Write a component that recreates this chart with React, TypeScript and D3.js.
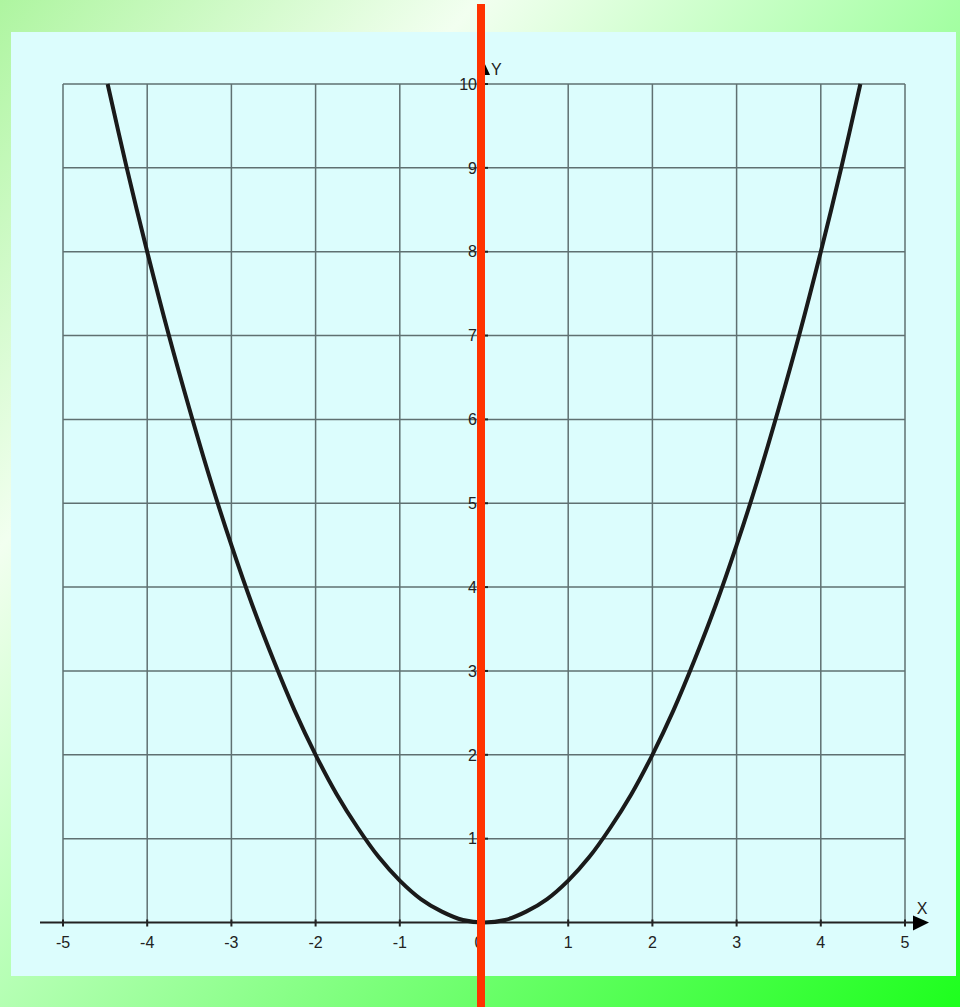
import React from 'react';
import * as d3 from 'd3';

// tick labels on both axes
const xTicks = [-5, -4, -3, -2, -1, 0, 1, 2, 3, 4, 5];
const yTicks = [1, 2, 3, 4, 5, 6, 7, 8, 9, 10];

// points of the curve
const curveX = [
  -4.47, -4.25, -4, -3.75, -3.5, -3.25, -3, -2.75, -2.5, -2.25, -2, -1.75, -1.5, -1.25, -1, -0.75, -0.5, -0.25, 0,
  0.25, 0.5, 0.75, 1, 1.25, 1.5, 1.75, 2, 2.25, 2.5, 2.75, 3, 3.25, 3.5, 3.75, 4, 4.25, 4.47,
];
const curveY = [
  10, 9.03, 8, 7.03, 6.13, 5.28, 4.5, 3.78, 3.13, 2.53, 2, 1.53, 1.13, 0.78, 0.5, 0.28, 0.13, 0.03, 0,
  0.03, 0.13, 0.28, 0.5, 0.78, 1.13, 1.53, 2, 2.53, 3.13, 3.78, 4.5, 5.28, 6.13, 7.03, 8, 9.03, 10,
];

const W = 960;
const H = 1007;
const font = '"Liberation Sans", Arial, sans-serif';

const App = () => {
  // scales for the plot area
  const xScale = d3.scaleLinear().domain([-5, 5]).range([63, 905]);
  const yScale = d3.scaleLinear().domain([0, 10]).range([922.5, 84]);

  const x0 = xScale(0);
  const y0 = yScale(0);

  const points: [number, number][] = curveX.map((x, i) => [x, curveY[i]]);
  const line = d3.line<[number, number]>()
    .x(d => xScale(d[0]))
    .y(d => yScale(d[1]))
    .curve(d3.curveCatmullRom);

  return (
    <svg width={W} height={H} style={{ position: 'absolute', left: 0, top: 0, display: 'block' }}>
      <defs>
        <linearGradient id="bg" gradientUnits="userSpaceOnUse" x1={0} y1={0} x2={1043} y2={910}>
          <stop offset="0" stopColor="#aef5a0" />
          <stop offset="0.26" stopColor="#f2fff0" />
          <stop offset="1" stopColor="#1eff1e" />
        </linearGradient>
      </defs>

      {/* slide background and the light panel */}
      <rect x={0} y={0} width={W} height={H} fill="url(#bg)" />
      <rect x={11} y={32} width={945} height={944} fill="#dcfdfd" />

      {/* grid */}
      <g stroke="#5f7071" strokeWidth={1.5}>
        {xTicks.filter(t => t !== 0).map(t => (
          <line key={'gx' + t} x1={xScale(t)} x2={xScale(t)} y1={yScale(10)} y2={y0} />
        ))}
        {yTicks.map(t => (
          <line key={'gy' + t} x1={xScale(-5)} x2={xScale(5)} y1={yScale(t)} y2={yScale(t)} />
        ))}
      </g>

      {/* axes */}
      <g stroke="#222" strokeWidth={2}>
        <line x1={40} x2={915} y1={y0} y2={y0} />
        <line x1={x0} x2={x0} y1={y0} y2={70} />
        {xTicks.map(t => (
          <line key={'tx' + t} x1={xScale(t)} x2={xScale(t)} y1={y0 - 3} y2={y0 + 4} />
        ))}
        {yTicks.map(t => (
          <line key={'ty' + t} x1={x0 - 3} x2={x0 + 4} y1={yScale(t)} y2={yScale(t)} />
        ))}
      </g>
      <path d={`M929,${y0} L913,${y0 - 7} L913,${y0 + 8} Z`} fill="#000" />
      <path d={`M${x0},62 L${x0 - 6},75 L${x0 + 6},75 Z`} fill="#000" />

      {/* tick labels */}
      <g fontFamily={font} fontSize={16} fill="#222">
        {xTicks.map(t => (
          <text key={'lx' + t} x={t === 0 ? x0 - 5 : xScale(t)} y={948} textAnchor="middle">{String(t)}</text>
        ))}
        {yTicks.map(t => (
          <text key={'ly' + t} x={x0 - 7} y={yScale(t)} dy="0.36em" textAnchor="end">{String(t)}</text>
        ))}
        <text x={491} y={75}>Y</text>
        <text x={922} y={914} textAnchor="middle">X</text>
      </g>

      {/* the parabola */}
      <path d={line(points) || ''} fill="none" stroke="#1a1a1a" strokeWidth={4} strokeLinejoin="round" />

      {/* red vertical marker */}
      <rect x={477} y={4} width={8} height={H - 4} fill="#ff3300" />
    </svg>
  );
};

export default App;
